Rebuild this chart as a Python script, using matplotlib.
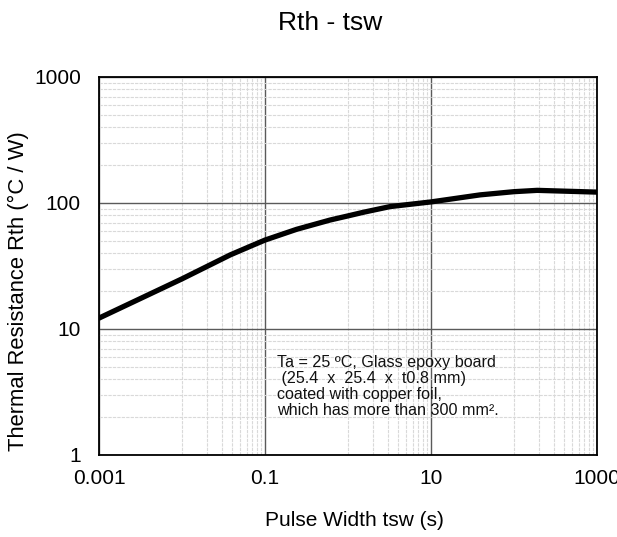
import matplotlib
matplotlib.use("Agg")
import matplotlib.pyplot as plt
from matplotlib.ticker import FixedLocator, NullFormatter

plt.rcParams['font.family'] = ['Liberation Sans', 'DejaVu Sans']

# curve
tsw = [0.001, 0.01, 0.038, 0.07, 0.1, 0.24, 0.61, 1, 1.53, 3.2, 10, 39, 100, 190, 1000]
rth = [12.2, 25.0, 38.7, 46.0, 50.8, 61.8, 73.3, 79, 84.4, 93.6, 102, 116, 123, 126, 122]

x_major = [0.001, 0.1, 10, 1000]
x_labels = ['0.001', '0.1', '10', '1000']
y_major = [1, 10, 100, 1000]
y_labels = ['1', '10', '100', '1000']

x_minor = [k * 10.0 ** n for n in (-2, 0, 2) for k in range(1, 10)]
y_minor = [k * 10.0 ** n for n in (0, 1, 2) for k in range(2, 10)]

note = ("Ta = 25 ºC, Glass epoxy board\n"
        " (25.4  x  25.4  x  t0.8 mm)\n"
        "coated with copper foil,\n"
        "which has more than 300 mm².")

fig = plt.figure(figsize=(6.17, 5.37), dpi=100)
ax = fig.add_axes([99 / 617, 82 / 537, 498 / 617, 378 / 537])

ax.set_xscale('log')
ax.set_yscale('log')
ax.set_xlim(0.001, 1000)
ax.set_ylim(1, 1000)

ax.xaxis.set_major_locator(FixedLocator(x_major))
ax.xaxis.set_minor_locator(FixedLocator(x_minor))
ax.yaxis.set_major_locator(FixedLocator(y_major))
ax.yaxis.set_minor_locator(FixedLocator(y_minor))
ax.set_xticklabels(x_labels)
ax.set_yticklabels(y_labels)
ax.xaxis.set_minor_formatter(NullFormatter())
ax.yaxis.set_minor_formatter(NullFormatter())
ax.tick_params(which='both', length=0)
ax.tick_params(axis='x', which='major', labelsize=15, pad=10)
ax.tick_params(axis='y', which='major', labelsize=15, pad=13)

# grid
ax.grid(which='minor', color='#d9d9d9', linestyle=(0, (3, 1)), linewidth=0.8)
ax.grid(which='major', color='#5a5a5a', linestyle='-', linewidth=1.0)
ax.set_axisbelow(True)

for sp in ax.spines.values():
    sp.set_linewidth(1.3)
    sp.set_color('black')

ax.plot(tsw, rth, color='black', linewidth=3.8, solid_capstyle='round', zorder=3)

ax.text(0.357, 0.265, note, transform=ax.transAxes, fontsize=11.6,
        va='top', ha='left', linespacing=1.1, color='#111111')

fig.text(0.535, 0.958, 'Rth - tsw', ha='center', va='center', fontsize=19)
fig.text(0.575, 1 - 521 / 537, 'Pulse Width tsw (s)', ha='center', va='center', fontsize=15)
fig.text(18 / 617, 1 - 291 / 537, 'Thermal Resistance Rth (°C / W)', ha='center',
         va='center', rotation=90, fontsize=15.8)

fig.savefig('out.png', dpi=100)
